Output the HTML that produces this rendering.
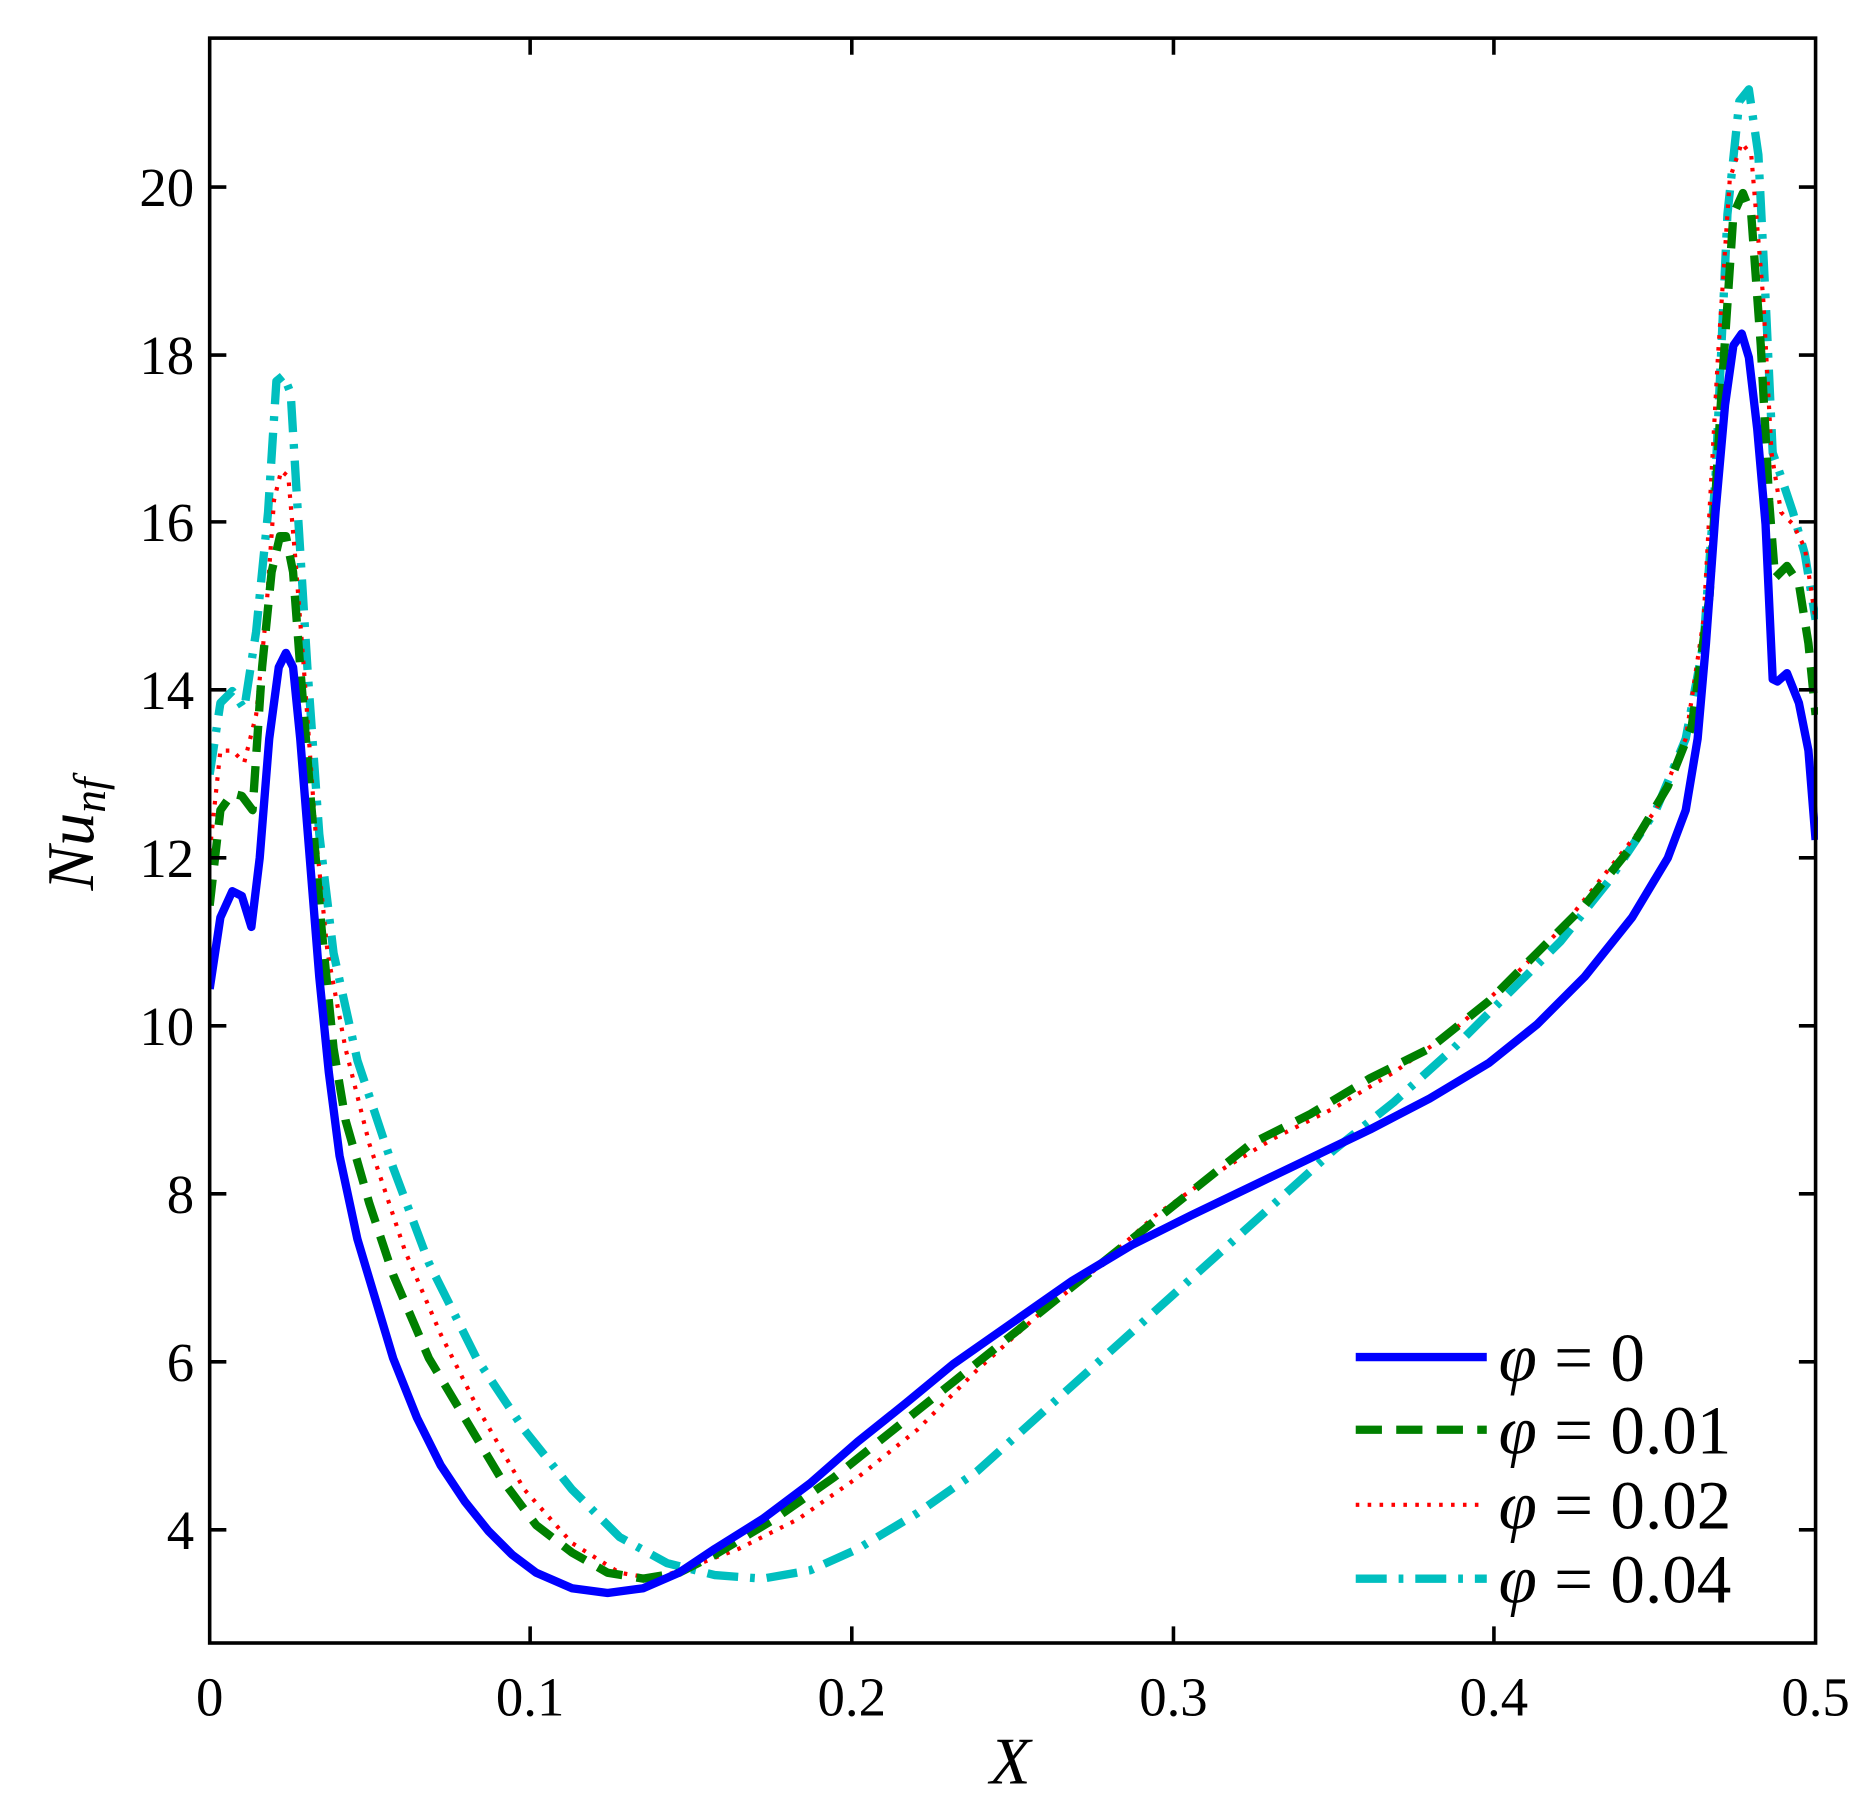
<!DOCTYPE html>
<html><head><style>html,body{margin:0;padding:0;background:#fff}svg{display:block}</style></head>
<body>
<svg width="1868" height="1811" viewBox="0 0 1568 1520" preserveAspectRatio="none" xmlns="http://www.w3.org/2000/svg" font-family="Liberation Serif, serif">
<g fill="none" stroke-linejoin="round">
<polyline stroke="#00bfbf" stroke-width="7" stroke-dasharray="26,10,4,10" points="176,650 185,590 195,580 205,595 215,530 225,430 232,320 238,315 244,330 250,430 258,560 268,700 280,800 300,890 330,980 360,1060 400,1140 440,1200 480,1250 520,1290 560,1312 600,1322 640,1325 680,1318 720,1300 770,1270 820,1235 870,1190 920,1145 970,1100 1020,1055 1070,1010 1120,965 1170,925 1220,880 1270,830 1310,790 1350,740 1390,680 1415,620 1430,540 1440,400 1450,180 1460,85 1468,75 1476,130 1482,250 1488,380 1495,400 1505,430 1515,465 1524,520"/>
<polyline stroke="#ff0000" stroke-width="3.5" stroke-dasharray="3,7" points="176,715 185,630 195,630 205,640 215,600 223,520 230,420 236,395 242,400 248,470 255,560 265,700 275,800 290,880 310,960 340,1050 370,1120 400,1180 440,1250 480,1295 520,1320 550,1325 580,1315 620,1300 670,1275 720,1240 770,1200 820,1150 870,1105 920,1065 970,1020 1020,985 1070,955 1120,930 1170,900 1220,865 1270,820 1310,780 1350,730 1390,680 1415,620 1430,520 1442,300 1452,150 1462,120 1470,130 1480,250 1487,380 1495,430 1505,440 1515,460 1524,520"/>
<polyline stroke="#008000" stroke-width="7" stroke-dasharray="22,12" points="176,760 185,680 195,666 203,668 212,680 220,560 228,480 235,450 240,450 246,480 252,560 260,660 270,780 280,880 290,940 310,1010 330,1070 360,1140 390,1190 420,1240 450,1280 480,1303 510,1320 540,1325 570,1320 600,1305 650,1275 700,1240 750,1200 800,1160 850,1120 900,1080 950,1040 1000,1000 1050,960 1100,935 1150,905 1200,880 1250,840 1290,800 1330,760 1370,710 1400,660 1420,610 1435,500 1445,330 1455,180 1463,162 1470,180 1478,290 1485,420 1490,485 1500,475 1510,490 1518,540 1524,600"/>
<polyline stroke="#0000ff" stroke-width="7" points="176,830 185,770 195,748 203,752 211,778 218,720 226,620 234,560 240,548 246,560 252,620 260,720 268,820 276,900 285,970 300,1040 315,1090 330,1140 350,1190 370,1230 390,1260 410,1285 430,1305 450,1320 480,1333 510,1337 540,1333 570,1320 600,1300 640,1275 680,1245 720,1210 760,1178 800,1145 850,1110 900,1075 950,1045 1000,1020 1050,996 1100,972 1150,948 1200,922 1250,892 1290,860 1330,820 1370,770 1400,720 1415,680 1425,620 1432,540 1440,430 1448,340 1455,290 1462,280 1468,300 1475,360 1482,440 1488,570 1492,572 1500,565 1510,590 1518,630 1524,705"/>
</g>
<rect x="0" y="0" width="175" height="1520" fill="#fff"/>
<rect x="1526" y="0" width="42" height="1520" fill="#fff"/>
<g stroke="#000" stroke-width="3" fill="none">
<rect x="176" y="32" width="1348" height="1347"/>
<path d="M445,1379v-14M715,1379v-14M985,1379v-14M1254,1379v-14M445,32v14M715,32v14M985,32v14M1254,32v14
M176,1284h14M176,1143h14M176,1002h14M176,861h14M176,720h14M176,579h14M176,438h14M176,298h14M176,157h14
M1524,1284h-14M1524,1143h-14M1524,1002h-14M1524,861h-14M1524,720h-14M1524,579h-14M1524,438h-14M1524,298h-14M1524,157h-14"/>
</g>
<g font-size="46" fill="#000">
<g text-anchor="middle">
<text x="176" y="1440">0</text><text x="445" y="1440">0.1</text><text x="715" y="1440">0.2</text><text x="985" y="1440">0.3</text><text x="1254" y="1440">0.4</text><text x="1524" y="1440">0.5</text>
</g>
<g text-anchor="end">
<text x="163" y="1300">4</text><text x="163" y="1159">6</text><text x="163" y="1018">8</text><text x="163" y="877">10</text><text x="163" y="736">12</text><text x="163" y="595">14</text><text x="163" y="454">16</text><text x="163" y="314">18</text><text x="163" y="173">20</text>
</g>
</g>
<text x="848" y="1497" font-size="56" font-style="italic" text-anchor="middle">X</text>
<text transform="translate(78,700) rotate(-90)" font-size="56" font-style="italic" text-anchor="middle">Nu<tspan font-size="38" dy="10">nf</tspan></text>
<g stroke-width="6" fill="none">
<line x1="1138" y1="1139" x2="1248" y2="1139" stroke="#0000ff" stroke-width="7"/>
<line x1="1138" y1="1200" x2="1248" y2="1200" stroke="#008000" stroke-width="7" stroke-dasharray="22,12"/>
<line x1="1138" y1="1263" x2="1248" y2="1263" stroke="#ff0000" stroke-width="3.5" stroke-dasharray="3,7"/>
<line x1="1138" y1="1325" x2="1248" y2="1325" stroke="#00bfbf" stroke-width="7" stroke-dasharray="26,10,4,10"/>
</g>
<g font-size="58" fill="#000">
<text x="1258" y="1159"><tspan font-style="italic">φ</tspan> = 0</text>
<text x="1258" y="1220"><tspan font-style="italic">φ</tspan> = 0.01</text>
<text x="1258" y="1283"><tspan font-style="italic">φ</tspan> = 0.02</text>
<text x="1258" y="1345"><tspan font-style="italic">φ</tspan> = 0.04</text>
</g>
</svg>
</body></html>
